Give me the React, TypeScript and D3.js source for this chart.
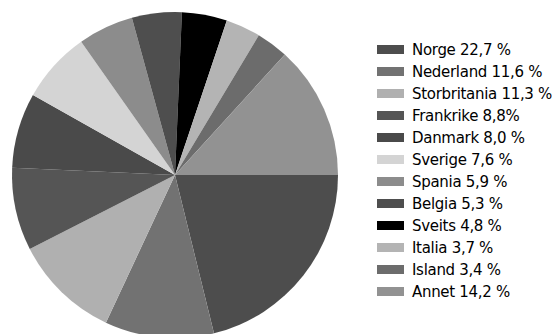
import React from "react";
import * as d3 from "d3";

const countries = ["Norge", "Nederland", "Storbritania", "Frankrike", "Danmark", "Sverige", "Spania", "Belgia", "Sveits", "Italia", "Island", "Annet"];
const shares = [22.7, 11.6, 11.3, 8.8, 8.0, 7.6, 5.9, 5.3, 4.8, 3.7, 3.4, 14.2];
const shareLabels = ["22,7 %", "11,6 %", "11,3 %", "8,8%", "8,0 %", "7,6 %", "5,9 %", "5,3 %", "4,8 %", "3,7 %", "3,4 %", "14,2 %"];
const fills = ["#4d4d4d", "#727272", "#b0b0b0", "#555555", "#4a4a4a", "#d4d4d4", "#8c8c8c", "#4e4e4e", "#000000", "#b4b4b4", "#6c6c6c", "#929292"];

export default function App() {
  const W = 559, H = 334;
  const cx = 175, cy = 175, R = 163;
  const data = countries.map((c, i) => ({ c, v: shares[i], i }));
  const pie = d3.pie<any>().value((d) => d.v).sort(null).startAngle(Math.PI / 2).endAngle(Math.PI / 2 + 2 * Math.PI);
  const arcs = pie(data);
  const arc = d3.arc<any>().innerRadius(0).outerRadius(R);
  const legendY = d3.scaleLinear().domain([0, countries.length - 1]).range([49.5, 291.5]);
  return (
    <svg width={W} height={H} style={{ position: "absolute", left: 0, top: 0, background: "#fff" }}>
      <g transform={`translate(${cx},${cy})`}>
        {arcs.map((a) => (
          <path key={a.data.c} d={arc(a) as string} fill={fills[a.data.i]} />
        ))}
      </g>
      <g fontFamily="DejaVu Sans, sans-serif" fontSize={15} fill="#000">
        {countries.map((c, i) => (
          <g key={c} transform={`translate(0,${legendY(i)})`}>
            <rect x={377} y={-4.5} width={27} height={9} fill={fills[i]} />
            <text x={412} y={0} dy="0.36em" letterSpacing={-0.3}>{`${c} ${shareLabels[i]}`}</text>
          </g>
        ))}
      </g>
    </svg>
  );
}
